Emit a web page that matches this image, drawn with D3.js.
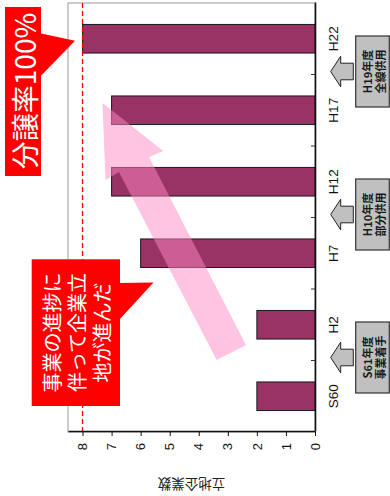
<!DOCTYPE html>
<html>
<head>
<meta charset="utf-8">
<script src="https://cdn.jsdelivr.net/npm/d3@7"></script>
<style>
  html, body { margin: 0; padding: 0; background: #fff; }
  svg { display: block; font-family: "Liberation Sans", "Noto Sans CJK JP", sans-serif; }
</style>
</head>
<body>
<script>
// dados do gráfico
const categories = ["S60", "H2", "H7", "H12", "H17", "H22"];
const companies = [2, 2, 6, 7, 7, 8];
const valueTicks = [0, 1, 2, 3, 4, 5, 6, 7, 8];
const targetValue = 8;
const yLabel = "立地企業数";

// marcos do projeto (entre categorias)
const milestoneAfter = ["S60", "H7", "H17"];
const milestoneLines = [["S61年度", "事業着手"], ["H10年度", "部分供用"], ["H19年度", "全線供用"]];

const callout1 = "分譲率100%";
const callout2 = ["事業の進捗に", "伴って企業立", "地が進んだ"];

const W = 390, H = 496;
const svg = d3.select("body").append("svg").attr("width", W).attr("height", H);
svg.append("rect").attr("width", W).attr("height", H).attr("fill", "#fff");

// o gráfico original está girado 90° anti-horário
const g = svg.append("g").attr("transform", `translate(0,${H}) rotate(-90)`);

const x = d3.scaleBand().domain(categories).range([64, 493]).padding(0);
const y = d3.scaleLinear().domain([0, 8.5]).range([315, 68]);

// moldura cinza
g.append("rect")
  .attr("x", 64).attr("y", 68)
  .attr("width", 493 - 64).attr("height", 315 - 68)
  .attr("fill", "none").attr("stroke", "#9a9a9a").attr("stroke-width", 1);

// barras
g.selectAll("rect.bar")
  .data(categories)
  .enter()
  .append("rect")
  .attr("class", "bar")
  .attr("x", d => x(d) + x.bandwidth() * 0.3)
  .attr("width", x.bandwidth() * 0.4)
  .attr("y", (d, i) => y(companies[i]))
  .attr("height", (d, i) => y(0) - y(companies[i]))
  .attr("fill", "#993366")
  .attr("stroke", "#1a1a1a")
  .attr("stroke-width", 1);

// linha tracejada 100%
g.append("line")
  .attr("x1", 64).attr("x2", 493)
  .attr("y1", y(targetValue)).attr("y2", y(targetValue))
  .attr("stroke", "#ff0000").attr("stroke-width", 1.3)
  .attr("stroke-dasharray", "5,3");

// eixo de valores
const yAxis = g.append("g")
  .attr("transform", "translate(64,0)")
  .call(d3.axisLeft(y).tickValues(valueTicks).tickSize(4).tickSizeOuter(0).tickPadding(7));
yAxis.select(".domain").attr("stroke", "#111").attr("stroke-width", 1.6);
yAxis.selectAll(".tick line").attr("stroke", "#111");
yAxis.selectAll("text").attr("font-size", 13).attr("fill", "#111")
  .attr("font-family", "Liberation Sans");

// eixo de categorias
const xAxis = g.append("g")
  .attr("transform", "translate(0,315)")
  .call(d3.axisBottom(x).tickSize(0).tickPadding(13));
xAxis.select(".domain").attr("stroke", "#111").attr("stroke-width", 1.6);
xAxis.selectAll("text").attr("font-size", 13.5).attr("fill", "#111")
  .attr("font-family", "Liberation Sans");

// tracinhos entre categorias
g.selectAll("line.sep")
  .data(categories.slice(1))
  .enter()
  .append("line")
  .attr("class", "sep")
  .attr("x1", d => x(d)).attr("x2", d => x(d))
  .attr("y1", 315).attr("y2", 311)
  .attr("stroke", "#333");

// rótulo do eixo
g.append("text")
  .attr("transform", `translate(11,${(y(0) + y(8.5)) / 2}) rotate(-90)`)
  .attr("text-anchor", "middle")
  .attr("dominant-baseline", "central")
  .attr("font-size", 13.5)
  .attr("font-family", "Noto Sans CJK JP")
  .attr("fill", "#222")
  .text(yLabel);

// setas e caixas dos marcos
milestoneAfter.forEach((c, i) => {
  const bx = x(c) + x.step() + 3;
  const pts = [
    [bx, 330.7], [bx + 15.3, 340.7], [bx + 8.3, 340.7], [bx + 8.3, 353.3],
    [bx - 8.3, 353.3], [bx - 8.3, 340.7], [bx - 15.3, 340.7]
  ];
  g.append("polygon")
    .attr("points", pts.map(p => p.join(",")).join(" "))
    .attr("fill", "#c0c0c0").attr("stroke", "#222").attr("stroke-width", 1);
  g.append("rect")
    .attr("x", bx - 35.5).attr("y", 355.7)
    .attr("width", 71).attr("height", 33.6)
    .attr("fill", "#c0c0c0").attr("stroke", "#333").attr("stroke-width", 1.2);
  milestoneLines[i].forEach((t, j) => {
    g.append("text")
      .attr("x", bx).attr("y", 366.5 + j * 13.5)
      .attr("text-anchor", "middle")
      .attr("dominant-baseline", "central")
      .attr("font-size", 11)
      .attr("font-weight", "bold")
      .attr("font-family", "Noto Sans CJK JP")
      .attr("fill", "#1a1a1a")
      .text(t);
  });
});

// seta rosa grande
const pinkArrow = [
  [102.5, 103], [163.3, 151], [149, 157], [246, 345],
  [216.7, 360], [119, 172], [105.5, 180]
];
svg.append("polygon")
  .attr("points", pinkArrow.map(p => p.join(",")).join(" "))
  .attr("fill", "#ff8ac4").attr("fill-opacity", 0.5);

// balão 1
svg.append("rect").attr("x", 5).attr("y", 7).attr("width", 36).attr("height", 169).attr("fill", "#ff0000");
svg.append("polygon").attr("points", "40,33.3 75,40.7 40,76.7").attr("fill", "#ff0000");
svg.append("text")
  .attr("transform", "translate(24,91) rotate(-90)")
  .attr("text-anchor", "middle")
  .attr("dominant-baseline", "central")
  .attr("font-size", 28)
  .attr("font-family", "Noto Sans CJK JP")
  .attr("fill", "#fff")
  .text(callout1);

// balão 2
svg.append("rect").attr("x", 31.7).attr("y", 259.3).attr("width", 88.3).attr("height", 146.7).attr("fill", "#ff0000");
svg.append("polygon").attr("points", "119,283 153.5,282.5 119,320").attr("fill", "#ff0000");
callout2.forEach((t, i) => {
  svg.append("text")
    .attr("transform", `translate(${51.7 + i * 25},332.5) rotate(-90)`)
    .attr("text-anchor", "middle")
    .attr("dominant-baseline", "central")
    .attr("font-size", 20)
    .attr("font-family", "Noto Sans CJK JP")
    .attr("fill", "#fff")
    .text(t);
});
</script>
</body>
</html>
